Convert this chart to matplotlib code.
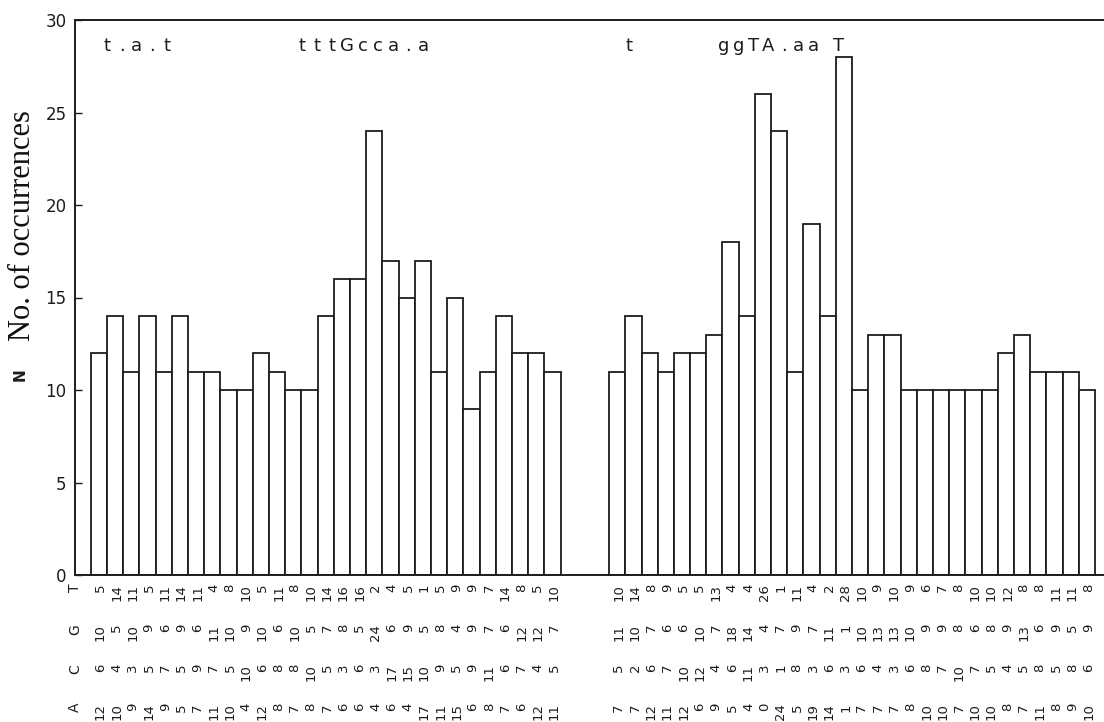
import matplotlib
matplotlib.use('Agg')
import matplotlib.pyplot as plt
import matplotlib.transforms as mtrans
import numpy as np

# ---------------- data ----------------
left_N = [12, 14, 11, 14, 11, 14, 11, 11, 10, 10, 12, 11, 10, 10, 14, 16, 16, 24,
          17, 15, 17, 11, 15, 9, 11, 14, 12, 12, 11]
right_N = [11, 14, 12, 11, 12, 12, 13, 18, 14, 26, 24, 11, 19, 14, 28, 10, 13, 13,
           10, 10, 10, 10, 10, 10, 12, 13, 11, 11, 11, 10]

left_T = [5, 14, 11, 5, 11, 14, 11, 4, 8, 10, 5, 11, 8, 10, 14, 16, 16, 2, 4, 5, 1, 5, 9, 9, 7, 14, 8, 5, 10]
left_G = [10, 5, 10, 9, 6, 9, 6, 11, 10, 9, 10, 6, 10, 5, 7, 8, 5, 24, 6, 9, 5, 8, 4, 9, 7, 6, 12, 12, 7]
left_C = [6, 4, 3, 5, 7, 5, 9, 7, 5, 10, 6, 8, 8, 10, 5, 3, 6, 3, 17, 15, 10, 9, 5, 9, 11, 6, 7, 4, 5]
left_A = [12, 10, 9, 14, 9, 5, 7, 11, 10, 4, 12, 8, 7, 8, 7, 6, 6, 4, 6, 4, 17, 11, 15, 6, 8, 7, 6, 12, 11]

right_T = [10, 14, 8, 9, 5, 5, 13, 4, 4, 26, 1, 11, 4, 2, 28, 10, 9, 10, 9, 6, 7, 8, 10, 10, 12, 8, 8, 11, 11, 8]
right_G = [11, 10, 7, 6, 6, 10, 7, 18, 14, 4, 7, 9, 7, 11, 1, 10, 13, 13, 10, 9, 9, 8, 6, 8, 9, 13, 6, 9, 5, 9]
right_C = [5, 2, 6, 7, 10, 12, 4, 6, 11, 3, 1, 8, 3, 6, 3, 6, 4, 3, 6, 8, 7, 10, 7, 5, 4, 5, 8, 5, 8, 6]
right_A = [7, 7, 12, 11, 12, 6, 9, 5, 4, 0, 24, 5, 19, 14, 1, 7, 7, 7, 8, 10, 10, 7, 10, 10, 8, 7, 11, 8, 9, 10]

row_labels = ['T', 'G', 'C', 'A']

motif_left_a = "t.a.t"
motif_left_b = "tttGcca.a"
motif_right_a = "t"
motif_right_b = "ggTA.aa"
motif_right_c = "T"

y_ticks = [0, 5, 10, 15, 20, 25, 30]

# ---------------- layout ----------------
W, H = 1104, 722
fig = plt.figure(figsize=(W / 100, H / 100), dpi=100)
fig.patch.set_facecolor('white')

ax_left_px, ax_right_px = 75, 1104
ax_bot_px, ax_top_px = 575, 20
ax = fig.add_axes([ax_left_px / W, 1 - ax_bot_px / H,
                   (ax_right_px - ax_left_px) / W, (ax_bot_px - ax_top_px) / H])

ink = '#1c1c1c'
right_start = 32.0
xl = np.arange(len(left_N))
xr = right_start + np.arange(len(right_N))

ax.bar(xl, left_N, width=1.0, align='edge', facecolor='white',
       edgecolor=ink, linewidth=1.3)
ax.bar(xr, right_N, width=1.0, align='edge', facecolor='white',
       edgecolor=ink, linewidth=1.3)

ax.set_xlim(-0.97, 62.55)
ax.set_ylim(0, 30)
ax.set_yticks(y_ticks)
ax.set_yticklabels([str(v) for v in y_ticks], fontsize=12, color=ink,
                   family='DejaVu Sans')
ax.set_xticks([])
ax.tick_params(axis='y', direction='in', length=5, width=1.0, pad=6, colors=ink)
for s in ['left', 'bottom', 'top']:
    ax.spines[s].set_linewidth(1.4)
    ax.spines[s].set_color(ink)
ax.spines['right'].set_visible(False)

# motif letters at top
def put_chars(s, x0, step, y=28.6):
    for i, ch in enumerate(s):
        ax.text(x0 + i * step, y, ch, ha='center', va='center', fontsize=13,
                color=ink, family='DejaVu Sans')

put_chars(motif_left_a, 0.99, 0.93)
put_chars(motif_left_b, 13.02, 0.94)
put_chars(motif_right_a, 33.2, 0.93)
put_chars(motif_right_b, 39.05, 0.93)
put_chars(motif_right_c, 46.15, 0.93)

# rows of counts under the bars
blend = mtrans.blended_transform_factory(ax.transData, fig.transFigure)
row_tops_px = [584, 624, 664, 703]
left_rows = [left_T, left_G, left_C, left_A]
right_rows = [right_T, right_G, right_C, right_A]
for r in range(4):
    yf = 1 - row_tops_px[r] / H
    fig.text(75 / W, yf, row_labels[r], rotation=90, rotation_mode='anchor',
             ha='right', va='center', fontsize=10, color=ink, family='DejaVu Sans')
    for xs, vals in ((xl, left_rows[r]), (xr, right_rows[r])):
        for x, v in zip(xs, vals):
            ax.text(x + 0.6, yf, str(v), transform=blend, rotation=90,
                    rotation_mode='anchor', ha='right', va='center',
                    fontsize=9.5, color=ink, family='DejaVu Sans', clip_on=False)

# axis labels
fig.text(23 / W, 1 - 226 / H, 'No. of occurrences', rotation=90, ha='center',
         va='center', fontsize=22, family='Liberation Serif', color='#111111')
fig.text(20 / W, 1 - 375 / H, 'N', rotation=90, ha='center', va='center',
         fontsize=11, fontweight='bold', family='DejaVu Sans', color=ink)

fig.savefig('out.png', dpi=100, facecolor='white')
